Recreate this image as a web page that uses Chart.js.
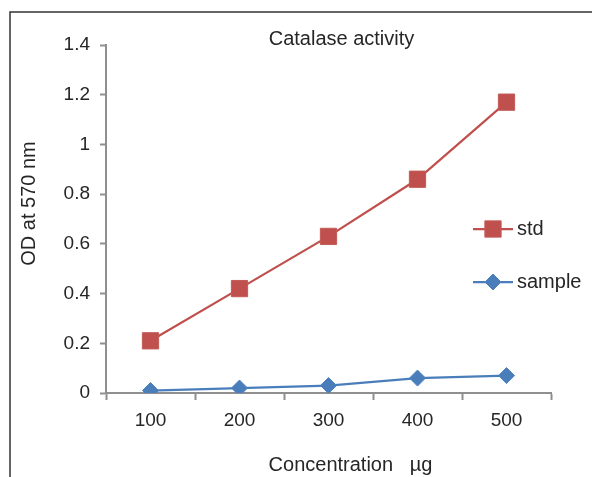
<!DOCTYPE html>
<html>
<head>
<meta charset="utf-8">
<title>Catalase activity</title>
<script src="https://cdn.jsdelivr.net/npm/chart.js@4.4.1/dist/chart.umd.min.js"></script>
<style>
  html, body { margin: 0; padding: 0; background: #fff; }
  #wrap { position: relative; width: 592px; height: 477px; }
</style>
</head>
<body>
<div id="wrap"><canvas id="chart" width="592" height="477"></canvas></div>
<script>
// dados
const concentracoes = ["100", "200", "300", "400", "500"];
const valoresStd = [0.21, 0.42, 0.63, 0.86, 1.17];
const valoresSample = [0.01, 0.02, 0.03, 0.06, 0.07];
const ticksY = [0, 0.2, 0.4, 0.6, 0.8, 1, 1.2, 1.4];

const tituloGrafico = "Catalase activity";
const tituloY = "OD at 570 nm";
const tituloX = "Concentration   \u00b5g";

const corTexto = "#262626";
const corEixo = "#8f8f8f";
const fonte = "'Liberation Sans', Arial, sans-serif";

// desenha moldura, títulos e legenda (posições fixas como no original)
const textosPlugin = {
    id: "textos",
    beforeDraw(chart) {
        const ctx = chart.ctx;
        ctx.save();
        ctx.strokeStyle = "#333";
        ctx.lineWidth = 1.5;
        ctx.beginPath();
        ctx.moveTo(10, 477);
        ctx.lineTo(10, 12);
        ctx.lineTo(592, 12);
        ctx.stroke();
        ctx.restore();
    },
    afterDraw(chart) {
        const ctx = chart.ctx;
        ctx.save();
        ctx.fillStyle = corTexto;
        ctx.font = "20px " + fonte;
        ctx.textAlign = "center";
        ctx.textBaseline = "middle";
        ctx.fillText(tituloGrafico, 341.5, 39.5);
        ctx.fillText(tituloX, 350.5, 465);

        ctx.save();
        ctx.translate(29, 203.5);
        ctx.rotate(-Math.PI / 2);
        ctx.fillText(tituloY, 0, 0);
        ctx.restore();

        // legenda
        const posY = [229, 282];
        chart.data.datasets.forEach((ds, i) => {
            const y = posY[i];
            ctx.strokeStyle = ds.borderColor;
            ctx.lineWidth = ds.borderWidth;
            ctx.beginPath();
            ctx.moveTo(473, y);
            ctx.lineTo(513, y);
            ctx.stroke();
            ctx.fillStyle = ds.pointBackgroundColor;
            ctx.strokeStyle = ds.pointBorderColor;
            ctx.lineWidth = ds.pointBorderWidth;
            Chart.helpers.drawPoint(ctx, {
                pointStyle: ds.pointStyle,
                radius: ds.pointRadius,
                rotation: 0,
                borderWidth: ds.pointBorderWidth
            }, 493, y);
            ctx.fillStyle = corTexto;
            ctx.textAlign = "left";
            ctx.fillText(ds.label, 517, y);
        });
        ctx.restore();
    }
};

const ctx = document.getElementById("chart").getContext("2d");
new Chart(ctx, {
    type: "line",
    data: {
        labels: concentracoes,
        datasets: [
            {
                label: "std",
                data: valoresStd,
                borderColor: "#c0504d",
                borderWidth: 2.25,
                pointStyle: "rect",
                pointRadius: 11.5,
                pointBackgroundColor: "#c0504d",
                pointBorderColor: "#c25b58",
                pointBorderWidth: 1,
                tension: 0
            },
            {
                label: "sample",
                data: valoresSample,
                borderColor: "#4a7ebb",
                borderWidth: 2.25,
                pointStyle: "rectRot",
                pointRadius: 8,
                pointBackgroundColor: "#4a7ebb",
                pointBorderColor: "#4f81bd",
                pointBorderWidth: 1,
                tension: 0
            }
        ]
    },
    options: {
        responsive: false,
        animation: false,
        layout: { padding: { top: 45, right: 41, left: 0, bottom: 0 } },
        plugins: {
            legend: { display: false },
            title: { display: false },
            tooltip: { enabled: false }
        },
        scales: {
            x: {
                type: "category",
                offset: true,
                afterFit: (scale) => { scale.height = 84; },
                grid: {
                    offset: true,
                    drawOnChartArea: false,
                    tickLength: 7,
                    tickColor: corEixo,
                    tickWidth: 2
                },
                border: { color: corEixo, width: 2 },
                ticks: {
                    color: corTexto,
                    padding: 9,
                    font: { family: fonte, size: 19 }
                }
            },
            y: {
                min: 0,
                max: 1.4,
                afterFit: (scale) => { scale.width = 106; },
                afterBuildTicks: (scale) => {
                    scale.ticks = ticksY.map((v) => ({ value: v }));
                },
                grid: {
                    drawOnChartArea: false,
                    tickLength: 6,
                    tickColor: corEixo,
                    tickWidth: 2
                },
                border: { color: corEixo, width: 2 },
                ticks: {
                    color: corTexto,
                    padding: 10,
                    font: { family: fonte, size: 19 },
                    callback: (v) => String(Math.round(v * 10) / 10)
                }
            }
        }
    },
    plugins: [textosPlugin]
});
</script>
</body>
</html>
